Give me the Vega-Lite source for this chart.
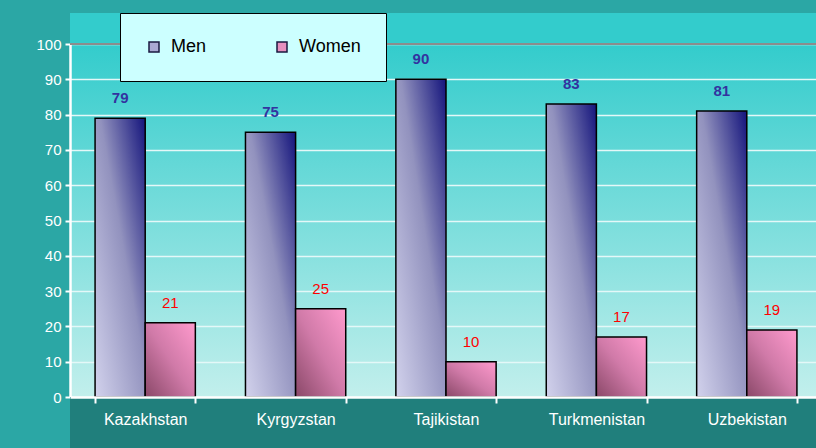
{
  "$schema": "https://vega.github.io/schema/vega-lite/v6.json",
  "width": 752,
  "height": 353,
  "autosize": "none",
  "padding": {"left": 70, "top": 44, "right": 0, "bottom": 51},
  "background": "#2BA7A5",
  "config": {
    "font": "Liberation Sans",
    "view": {
      "stroke": null,
      "fill": {"gradient": "linear", "x1": 0, "y1": 0, "x2": 0, "y2": 1, "stops": [{"offset": 0, "color": "#33CCCC"}, {"offset": 1, "color": "#C2EFEC"}]}
    }
  },
  "data": {"values": [
    {"country": "Kazakhstan", "gender": "Men", "value": 79},
    {"country": "Kazakhstan", "gender": "Women", "value": 21},
    {"country": "Kyrgyzstan", "gender": "Men", "value": 75},
    {"country": "Kyrgyzstan", "gender": "Women", "value": 25},
    {"country": "Tajikistan", "gender": "Men", "value": 90},
    {"country": "Tajikistan", "gender": "Women", "value": 10},
    {"country": "Turkmenistan", "gender": "Men", "value": 83},
    {"country": "Turkmenistan", "gender": "Women", "value": 17},
    {"country": "Uzbekistan", "gender": "Men", "value": 81},
    {"country": "Uzbekistan", "gender": "Women", "value": 19}
  ]},
  "layer": [
    {
      "data": {"values": [{}]},
      "mark": {"type": "rect", "fill": "#33CCCC"},
      "encoding": {
        "y": {"datum": 108.8, "type": "quantitative", "scale": {"domain": [0, 100], "nice": false},
          "axis": {"tickCount": 10, "title": null, "labelColor": "#FFFFFF", "labelFontSize": 15, "labelPadding": 4,
            "tickColor": "#FFFFFF", "tickSize": 5, "tickWidth": 2,
            "domainColor": "#FFFFFF", "domainWidth": 2.5,
            "grid": true, "gridWidth": 1.5, "gridColor": "#E4F8F8"}},
        "y2": {"datum": 100}
      }
    },
    {
      "data": {"values": [{}]},
      "mark": {"type": "rect", "fill": "#207F7C"},
      "encoding": {"y": {"datum": 0, "type": "quantitative"}, "y2": {"datum": -14.6}}
    },
    {
      "data": {"values": [{}]},
      "mark": {"type": "rule", "color": "#8C8C8C", "strokeWidth": 1.8},
      "encoding": {"y": {"datum": 100, "type": "quantitative"}}
    },
    {
      "mark": {"type": "bar", "stroke": "#000000", "strokeWidth": 1.5},
      "encoding": {
        "x": {
          "field": "country", "type": "nominal", "sort": null,
          "scale": {"paddingInner": 0.3333, "paddingOuter": 0.1667},
          "axis": {
            "title": null, "labelAngle": 0, "labelColor": "#FFFFFF", "labelFontSize": 16, "labelPadding": 8,
            "tickColor": "#FFFFFF", "tickSize": 6, "tickWidth": 2, "tickBand": "extent",
            "domainColor": "#FFFFFF", "domainWidth": 2.5, "grid": false, "zindex": 1
          }
        },
        "xOffset": {"field": "gender", "type": "nominal", "sort": ["Men", "Women"]},
        "y": {"field": "value", "type": "quantitative"},
        "fill": {
          "field": "gender", "type": "nominal",
          "scale": {"domain": ["Men", "Women"], "range": ["#A9A9D2", "#E68FBE"]},
          "condition": [
            {"test": "datum.gender === 'Men'", "value": {"gradient": "linear", "x1": 0, "y1": 1, "x2": 1, "y2": 0, "stops": [{"offset": 0, "color": "#D2D2EC"}, {"offset": 0.55, "color": "#9292BE"}, {"offset": 1, "color": "#14147C"}]}},
            {"test": "datum.gender === 'Women'", "value": {"gradient": "linear", "x1": 0, "y1": 1, "x2": 1, "y2": 0, "stops": [{"offset": 0, "color": "#8A4868"}, {"offset": 0.5, "color": "#D07AA8"}, {"offset": 1, "color": "#FF9ACD"}]}}
          ],
          "legend": {
            "title": null, "orient": "none", "legendX": 50, "legendY": -31,
            "direction": "horizontal", "columns": 2, "columnPadding": 66, "padding": 25,
            "fillColor": "#CCFFFF", "strokeColor": "#000000", "cornerRadius": 0,
            "labelFontSize": 18, "labelColor": "#000000", "labelOffset": 8,
            "symbolType": "square", "symbolSize": 100, "symbolStrokeColor": "#1A1A40", "symbolStrokeWidth": 1.5
          }
        }
      }
    },
    {
      "transform": [{"filter": "datum.gender === 'Men'"}],
      "mark": {"type": "text", "fontSize": 15, "fontWeight": "bold", "color": "#3333A0", "baseline": "middle", "dy": -20},
      "encoding": {
        "x": {"field": "country", "type": "nominal", "sort": null},
        "xOffset": {"field": "gender", "type": "nominal", "sort": ["Men", "Women"]},
        "y": {"field": "value", "type": "quantitative"},
        "text": {"field": "value", "type": "quantitative"}
      }
    },
    {
      "transform": [{"filter": "datum.gender === 'Women'"}],
      "mark": {"type": "text", "fontSize": 15, "color": "#FF0000", "baseline": "middle", "dy": -20},
      "encoding": {
        "x": {"field": "country", "type": "nominal", "sort": null},
        "xOffset": {"field": "gender", "type": "nominal", "sort": ["Men", "Women"]},
        "y": {"field": "value", "type": "quantitative"},
        "text": {"field": "value", "type": "quantitative"}
      }
    }
  ]
}
